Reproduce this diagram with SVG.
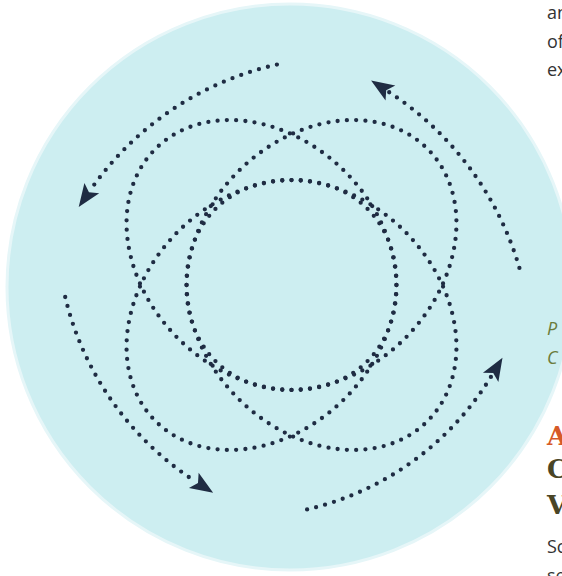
<svg xmlns="http://www.w3.org/2000/svg" xmlns:xlink="http://www.w3.org/1999/xlink" width="562" height="576" viewBox="0 0 562 576">
<defs>
<style>
.dot{fill:none;stroke:#1f2c43;stroke-width:4.3;stroke-linecap:round;stroke-dasharray:0 9.3}
.ld{fill:none;stroke:#1f2c43;stroke-width:4.3;stroke-linecap:round;stroke-dasharray:0 1}
.body{font-family:"Open Sans","Noto Sans",sans-serif;font-size:18px;fill:#333333}
.cap{font-family:"Open Sans","Noto Sans",sans-serif;font-style:italic;font-size:18px;fill:#6b7b3b}
.head{font-family:"DejaVu Serif",serif;font-weight:bold;font-size:26px}
</style>
<marker id="ah" markerUnits="userSpaceOnUse" markerWidth="30" markerHeight="24" viewBox="-2 -12 30 24" refX="3" refY="0" orient="auto">
<path d="M0,-9 L23,0 L0,9 L5,0 Z" fill="#1f2c43"/>
</marker>
<g id="loopShape">
<path class="ld" pathLength="18" d="M396.44 285 A150 118 45 0 1 291.5 389.94"/>
<path class="ld" pathLength="73" d="M291.5 389.94 A150 118 45 1 1 396.44 285"/>
</g>
</defs>
<rect width="562" height="576" fill="#ffffff"/>
<g id="background">
<circle cx="290" cy="287" r="283" fill="#cdeef1" stroke="#e6f6f8" stroke-width="3"/>
</g>
<g id="loops">
<g id="loop-a"><use href="#loopShape" xlink:href="#loopShape"/></g>
<g id="loop-b"><use href="#loopShape" xlink:href="#loopShape" transform="matrix(-1 0 0 1 583 0)"/></g>
<g id="loop-c"><use href="#loopShape" xlink:href="#loopShape" transform="matrix(1 0 0 -1 0 570)"/></g>
<g id="loop-d"><use href="#loopShape" xlink:href="#loopShape" transform="matrix(-1 0 0 -1 583 570)"/></g>
</g>
<g id="connectors">
<path class="dot" d="M276.9 64.6 A310 310 0 0 0 90.1 190.5" marker-end="url(#ah)"/>
<path class="dot" d="M65.2 297 A303 303 0 0 0 196.3 482" marker-end="url(#ah)"/>
<path class="dot" d="M307.1 509.4 A293 293 0 0 0 492.2 374.8" marker-end="url(#ah)"/>
<path class="dot" d="M519.4 267.9 A315 315 0 0 0 387.9 91.4" marker-end="url(#ah)"/>
</g>
<g id="text">
<text class="body" x="547" y="19">an</text>
<text class="body" x="547" y="47.5">of</text>
<text class="body" x="547" y="76">ex</text>
<text class="cap" x="547" y="335">P</text>
<text class="cap" x="547" y="364">C</text>
<text class="head" x="547" y="445" fill="#d65a28">A</text>
<text class="head" x="547" y="478" fill="#4a4526">C</text>
<text class="head" x="547" y="514" fill="#4a4526">V</text>
<text class="body" x="547" y="553">Sc</text>
<text class="body" x="547" y="582">se</text>
</g>
</svg>
